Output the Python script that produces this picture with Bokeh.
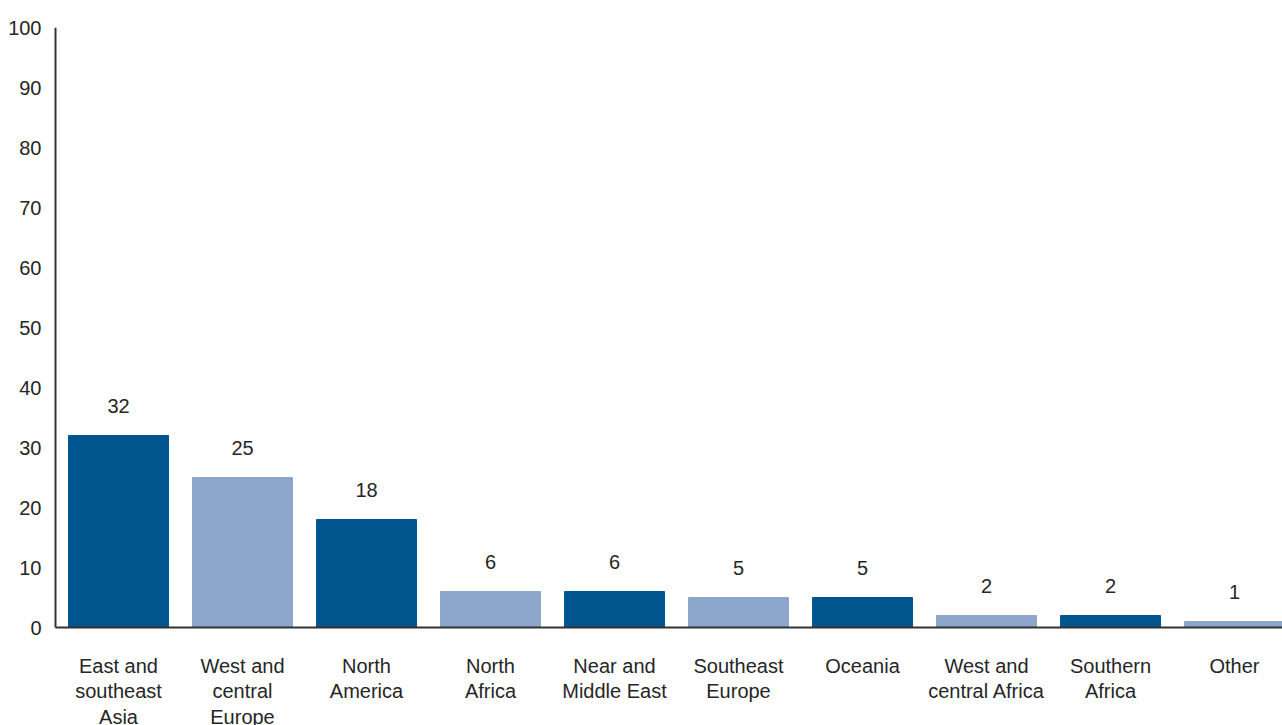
from bokeh.plotting import figure
from bokeh.models import Range1d, FixedTicker, ColumnDataSource
from bokeh.embed import file_html
from bokeh.resources import INLINE
from bokeh.core.properties import value

regions = [
    "East and\nsoutheast\nAsia",
    "West and\ncentral\nEurope",
    "North\nAmerica",
    "North\nAfrica",
    "Near and\nMiddle East",
    "Southeast\nEurope",
    "Oceania",
    "West and\ncentral Africa",
    "Southern\nAfrica",
    "Other",
]
shares = [32, 25, 18, 6, 6, 5, 5, 2, 2, 1]
y_ticks = [0, 10, 20, 30, 40, 50, 60, 70, 80, 90, 100]

DARK = "#00558f"
LIGHT = "#8ca5ca"
TEXT = "#262626"
AXIS = "#333333"
FONT = "Liberation Sans"

positions = list(range(1, len(regions) + 1))
colors = [DARK if i % 2 == 0 else LIGHT for i in range(len(regions))]

# the frame runs below zero so the category names can sit inside it
X_START, X_END = 0.4516, 10.387
Y_MIN, Y_MAX = -16.33, 100
AXIS_X = 0.4919

src = ColumnDataSource(dict(
    x=positions,
    top=shares,
    color=colors,
    label=[str(v) for v in shares],
    region=regions,
    below=[-4.5] * len(regions),
))

p = figure(
    width=1282, height=725,
    x_range=Range1d(X_START, X_END),
    y_range=Range1d(Y_MIN, Y_MAX),
    output_backend="svg", toolbar_location=None,
    min_border_left=50, min_border_right=0,
    min_border_top=27, min_border_bottom=0,
)
p.outline_line_color = None
p.xgrid.visible = False
p.ygrid.visible = False
p.xaxis.visible = False

p.vbar(x="x", top="top", bottom=0, width=0.806, color="color", source=src)
p.text(x="x", y="top", text="label", source=src,
       text_align="center", text_baseline="middle", y_offset=-30,
       text_font=value(FONT), text_font_size="20px", text_color=TEXT)
p.text(x="x", y="below", text="region", source=src,
       text_align="center", text_baseline="top", text_line_height=1.17,
       text_font=value(FONT), text_font_size="20px", text_color=TEXT)

# axis lines: vertical from 0 to 100, horizontal along zero
p.segment(x0=[AXIS_X, AXIS_X], y0=[0, 0], x1=[AXIS_X, X_END], y1=[Y_MAX, 0],
          line_color=AXIS, line_width=2)

ax = p.yaxis[0]
ax.ticker = FixedTicker(ticks=y_ticks)
ax.axis_line_color = None
ax.major_tick_line_color = None
ax.minor_tick_line_color = None
ax.major_label_standoff = 3
ax.major_label_text_font = FONT
ax.major_label_text_font_size = "20px"
ax.major_label_text_color = TEXT

open("out.html", "w").write(file_html(p, INLINE))
